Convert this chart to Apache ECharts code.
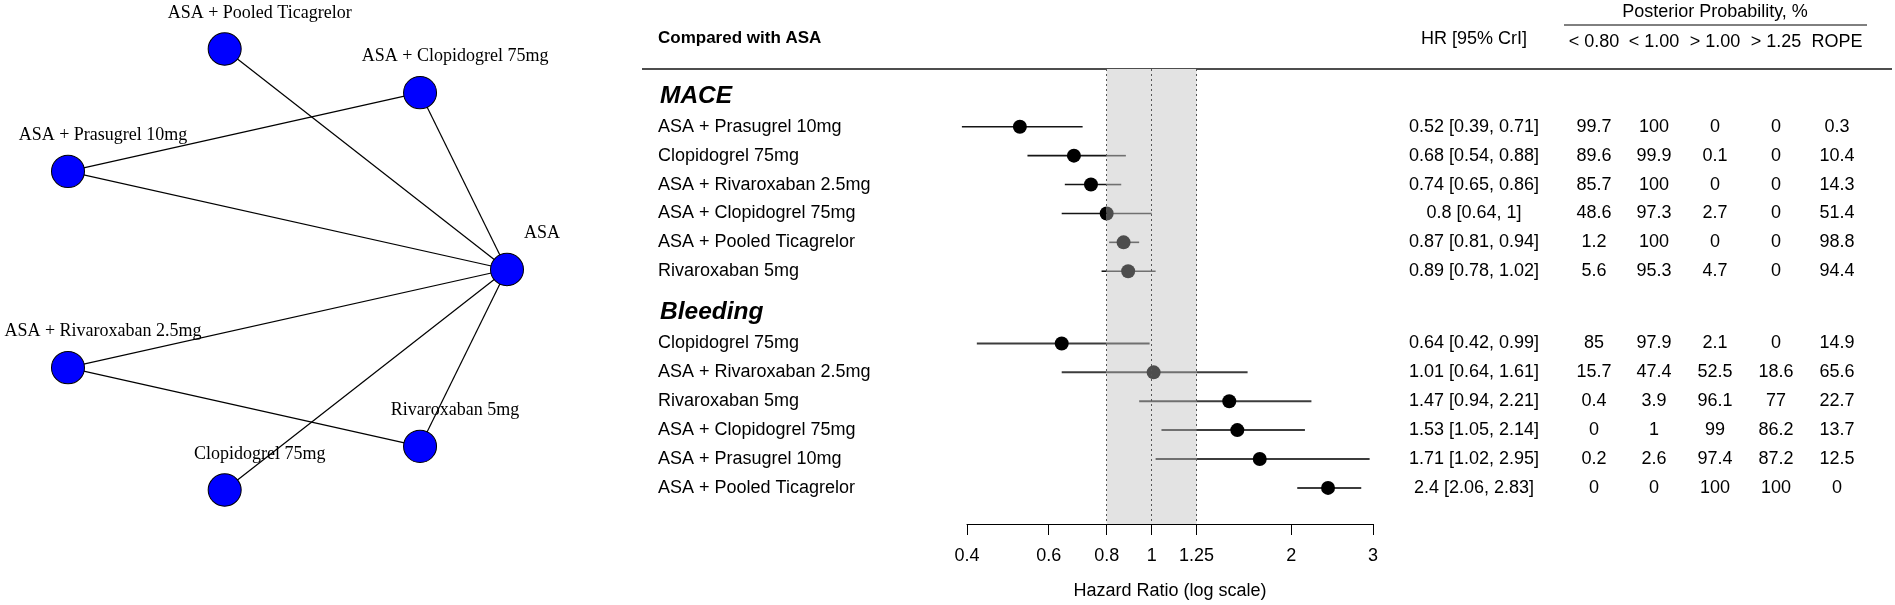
<!DOCTYPE html>
<html><head><meta charset="utf-8">
<script src="https://cdn.jsdelivr.net/npm/echarts@6/dist/echarts.min.js"></script>
<style>html,body{margin:0;padding:0;background:#fff}#c{width:1895px;height:605px}</style>
</head><body><div id="c"></div>
<script>
// ---------- DATA ----------
const nodeNames = ['ASA', 'ASA + Clopidogrel 75mg', 'ASA + Pooled Ticagrelor', 'ASA + Prasugrel 10mg',
  'ASA + Rivaroxaban 2.5mg', 'Clopidogrel 75mg', 'Rivaroxaban 5mg'];
const edgeSources = ['ASA', 'ASA', 'ASA', 'ASA', 'ASA', 'ASA', 'ASA + Prasugrel 10mg', 'ASA + Rivaroxaban 2.5mg'];
const edgeTargets = ['ASA + Clopidogrel 75mg', 'ASA + Pooled Ticagrelor', 'ASA + Prasugrel 10mg',
  'ASA + Rivaroxaban 2.5mg', 'Clopidogrel 75mg', 'Rivaroxaban 5mg', 'ASA + Clopidogrel 75mg', 'Rivaroxaban 5mg'];

const outcomeNames = ['MACE', 'Bleeding'];
const maceLabels = ['ASA + Prasugrel 10mg', 'Clopidogrel 75mg', 'ASA + Rivaroxaban 2.5mg', 'ASA + Clopidogrel 75mg', 'ASA + Pooled Ticagrelor', 'Rivaroxaban 5mg'];
const maceHR = [0.52, 0.68, 0.74, 0.8, 0.87, 0.89];
const maceLo = [0.39, 0.54, 0.65, 0.64, 0.81, 0.78];
const maceHi = [0.71, 0.88, 0.86, 1, 0.94, 1.02];
const maceProb = [[99.7, 100, 0, 0, 0.3], [89.6, 99.9, 0.1, 0, 10.4], [85.7, 100, 0, 0, 14.3],
  [48.6, 97.3, 2.7, 0, 51.4], [1.2, 100, 0, 0, 98.8], [5.6, 95.3, 4.7, 0, 94.4]];

const bleedLabels = ['Clopidogrel 75mg', 'ASA + Rivaroxaban 2.5mg', 'Rivaroxaban 5mg', 'ASA + Clopidogrel 75mg', 'ASA + Prasugrel 10mg', 'ASA + Pooled Ticagrelor'];
const bleedHR = [0.64, 1.01, 1.47, 1.53, 1.71, 2.4];
const bleedLo = [0.42, 0.64, 0.94, 1.05, 1.02, 2.06];
const bleedHi = [0.99, 1.61, 2.21, 2.14, 2.95, 2.83];
const bleedProb = [[85, 97.9, 2.1, 0, 14.9], [15.7, 47.4, 52.5, 18.6, 65.6], [0.4, 3.9, 96.1, 77, 22.7],
  [0, 1, 99, 86.2, 13.7], [0.2, 2.6, 97.4, 87.2, 12.5], [0, 0, 100, 100, 0]];

const xTicks = [0.4, 0.6, 0.8, 1, 1.25, 2, 3];
const rope = [0.8, 1.25];
const probHeaders = ['< 0.80', '< 1.00', '> 1.00', '> 1.25', 'ROPE'];

// ---------- LAYOUT ----------
const SANS = 'Liberation Sans, Arial, sans-serif';
const SERIF = 'Liberation Serif, Times New Roman, serif';
const ROW_OFFSET = [0, 7.5];      // row index of first row of each outcome block
const HEAD_SHIFT = -1.07;         // heading position relative to the block's first row
const LABEL_X = 658, HR_X = 1474;
const PROB_X = [1594, 1654, 1715, 1776, 1837];

const blocks = [
  { labels: maceLabels, hr: maceHR, lo: maceLo, hi: maceHi, prob: maceProb },
  { labels: bleedLabels, hr: bleedHR, lo: bleedLo, hi: bleedHi, prob: bleedProb }
];
const rows = [];
const headings = [];
blocks.forEach((b, g) => {
  headings.push({ text: outcomeNames[g], y: ROW_OFFSET[g] + HEAD_SHIFT });
  b.labels.forEach((lab, i) => {
    rows.push({ label: lab, hr: b.hr[i], lo: b.lo[i], hi: b.hi[i], prob: b.prob[i], y: ROW_OFFSET[g] + i, g: g });
  });
});

// network layout: circle, node k at angle 2*pi*k/n
const nNodes = nodeNames.length;
const graphNodes = nodeNames.map((n, k) => ({
  name: n,
  x: Math.cos(2 * Math.PI * k / nNodes),
  y: -Math.sin(2 * Math.PI * k / nNodes)
}));
const graphLinks = edgeSources.map((s, i) => ({ source: s, target: edgeTargets[i] }));

const chart = echarts.init(document.getElementById('c'), null, { renderer: 'canvas' });

function forestItem(params, api) {
  const r = rows[params.dataIndex];
  const y = api.value(3);
  const x0 = api.coord([api.value(0), y])[0];
  const x1 = api.coord([api.value(1), y])[0];
  const pc = api.coord([api.value(2), y]);
  const cy = pc[1];
  const xr0 = api.coord([rope[0], y])[0];
  const xr1 = api.coord([rope[1], y])[0];
  const outC = r.g === 0 ? '#151515' : '#3c3c3c';
  const inC = '#707070';
  const lw = r.g === 0 ? 1.6 : 2;
  const kids = [];
  const seg = (a, b, c) => { if (b > a) kids.push({ type: 'line', shape: { x1: a, y1: cy, x2: b, y2: cy }, style: { stroke: c, lineWidth: lw } }); };
  seg(x0, Math.min(x1, xr0), outC);
  seg(Math.max(x0, xr0), Math.min(x1, xr1), inC);
  seg(Math.max(x0, xr1), x1, outC);
  const rad = 7;
  const black = '#000', gray = '#4d4d4d';
  if (Math.abs(pc[0] - xr0) < 1 || Math.abs(pc[0] - xr1) < 1) {
    const leftC = Math.abs(pc[0] - xr0) < 1 ? black : gray;
    const rightC = leftC === black ? gray : black;
    kids.push({ type: 'sector', shape: { cx: pc[0], cy: cy, r0: 0, r: rad, startAngle: Math.PI / 2, endAngle: Math.PI * 1.5, clockwise: true }, style: { fill: leftC } });
    kids.push({ type: 'sector', shape: { cx: pc[0], cy: cy, r0: 0, r: rad, startAngle: -Math.PI / 2, endAngle: Math.PI / 2, clockwise: true }, style: { fill: rightC } });
  } else {
    const inside = r.hr > rope[0] && r.hr < rope[1];
    kids.push({ type: 'circle', shape: { cx: pc[0], cy: cy, r: rad }, style: { fill: inside ? gray : black } });
  }
  return { type: 'group', children: kids };
}

function textItem(params, api) {
  const y = api.coord([1, api.value(1)])[1];
  const kids = [];
  if (params.dataIndex < rows.length) {
    const r = rows[params.dataIndex];
    kids.push({ type: 'text', style: { x: LABEL_X, y: y, text: r.label, align: 'left', verticalAlign: 'middle', fontFamily: SANS, fontSize: 18, fill: '#000' } });
    kids.push({ type: 'text', style: { x: HR_X, y: y, text: r.hr + ' [' + r.lo + ', ' + r.hi + ']', align: 'center', verticalAlign: 'middle', fontFamily: SANS, fontSize: 18, fill: '#000' } });
    r.prob.forEach((p, j) => {
      kids.push({ type: 'text', style: { x: PROB_X[j], y: y, text: String(p), align: 'center', verticalAlign: 'middle', fontFamily: SANS, fontSize: 18, fill: '#000' } });
    });
  } else {
    const h = headings[params.dataIndex - rows.length];
    kids.push({ type: 'text', style: { x: LABEL_X + 2, y: y, text: h.text, align: 'left', verticalAlign: 'middle', fontFamily: SANS, fontSize: 24.5, fontWeight: 'bold', fontStyle: 'italic', fill: '#000' } });
  }
  return { type: 'group', children: kids };
}

const headerGraphics = [
  { type: 'text', x: LABEL_X, y: 38, style: { text: 'Compared with ASA', align: 'left', verticalAlign: 'middle', fontFamily: SANS, fontSize: 17, fontWeight: 'bold', fill: '#000' } },
  { type: 'text', x: HR_X, y: 39, style: { text: 'HR [95% CrI]', align: 'center', verticalAlign: 'middle', fontFamily: SANS, fontSize: 18, fill: '#000' } },
  { type: 'text', x: 1715, y: 12, style: { text: 'Posterior Probability, %', align: 'center', verticalAlign: 'middle', fontFamily: SANS, fontSize: 18, fill: '#000' } },
  { type: 'line', shape: { x1: 1564, y1: 25, x2: 1867, y2: 25 }, style: { stroke: '#000', lineWidth: 1 } },
  { type: 'line', shape: { x1: 642, y1: 69, x2: 1892, y2: 69 }, style: { stroke: '#4d4d4d', lineWidth: 2 } }
].concat(probHeaders.map((t, j) => ({ type: 'text', x: PROB_X[j], y: 42, style: { text: t, align: 'center', verticalAlign: 'middle', fontFamily: SANS, fontSize: 18, fill: '#000' } })));

const option = {
  animation: false,
  backgroundColor: '#fff',
  graphic: headerGraphics,
  grid: [{ left: 967, width: 406, top: 69, height: 456 }],
  xAxis: [{
    type: 'log', gridIndex: 0, min: 0.4, max: 3, position: 'bottom',
    name: 'Hazard Ratio (log scale)', nameLocation: 'middle', nameGap: 58,
    nameTextStyle: { fontFamily: SANS, fontSize: 18, color: '#000' },
    axisLine: { show: true, onZero: false, lineStyle: { color: '#000', width: 1 } },
    axisTick: { show: true, length: 11, lineStyle: { color: '#000', width: 1 }, customValues: xTicks },
    axisLabel: { show: true, margin: 23, fontFamily: SANS, fontSize: 18, color: '#000', customValues: xTicks, formatter: v => String(+v.toFixed(2)) },
    splitLine: { show: false }
  }],
  yAxis: [{ type: 'value', gridIndex: 0, inverse: true, min: -2, max: 13.75, show: false }],
  series: [
    {
      type: 'graph', layout: 'none', left: 68, top: 49, width: 439, height: 441,
      symbol: 'circle', symbolSize: 33, roam: false,
      data: graphNodes, links: graphLinks,
      itemStyle: { color: '#0000ff', borderColor: '#000', borderWidth: 1 },
      lineStyle: { color: '#000', width: 1.2, opacity: 1, curveness: 0 },
      label: { show: true, position: 'inside', offset: [35, -36], fontFamily: SERIF, fontSize: 18, color: '#000' },
      emphasis: { disabled: true }
    },
    {
      type: 'custom', xAxisIndex: 0, yAxisIndex: 0, z: 3,
      data: rows.map(r => [r.lo, r.hi, r.hr, r.y]),
      encode: { x: [0, 1, 2], y: 3 },
      renderItem: forestItem,
      markArea: { silent: true, z: 1, itemStyle: { color: '#e3e3e3' }, data: [[{ xAxis: rope[0], yAxis: -2 }, { xAxis: rope[1], yAxis: 13.75 }]] },
      markLine: { silent: true, symbol: 'none', label: { show: false }, lineStyle: { type: [2, 3], color: '#555', width: 1 },
        data: [{ xAxis: rope[0] }, { xAxis: 1 }, { xAxis: rope[1] }] }
    },
    {
      type: 'custom', xAxisIndex: 0, yAxisIndex: 0, z: 4,
      data: rows.map(r => [1, r.y]).concat(headings.map(h => [1, h.y])),
      encode: { x: 0, y: 1 },
      renderItem: textItem
    }
  ]
};
chart.setOption(option);
</script>
</body></html>
